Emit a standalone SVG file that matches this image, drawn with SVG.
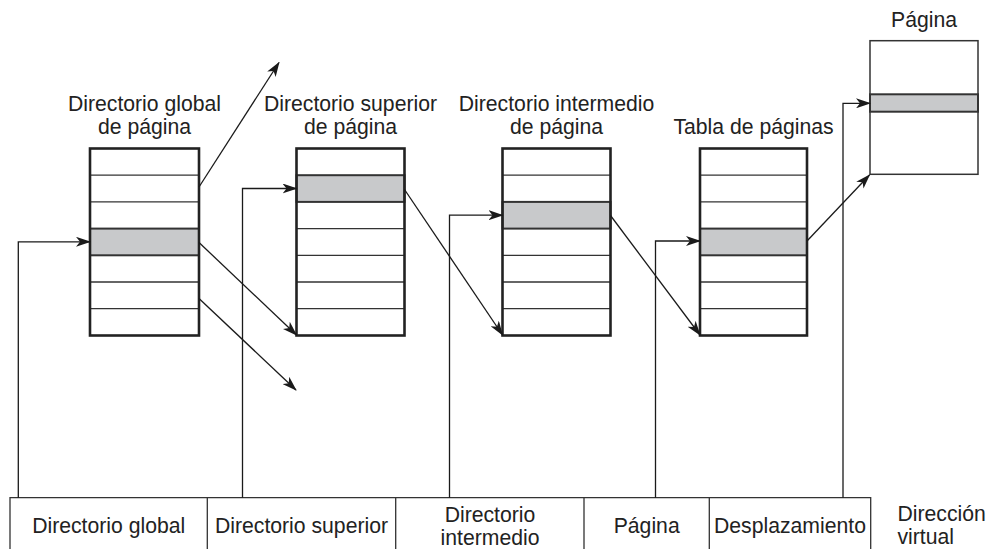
<svg xmlns="http://www.w3.org/2000/svg" width="987" height="549" viewBox="0 0 987 549">
<defs>
<marker id="ah" viewBox="0 0 15 10" refX="14" refY="5" markerWidth="15" markerHeight="10" markerUnits="userSpaceOnUse" orient="auto">
<path d="M0,0 L15,5 L0,10 L4,5 z" fill="#1a1a1a"/>
</marker>
</defs>
<style>
text{font-family:"Liberation Sans",Arial,sans-serif;font-size:21.2px;fill:#222}
.mid{text-anchor:middle}
.frame{fill:none;stroke:#222;stroke-width:2.6}
.row{stroke:#333;stroke-width:1.3}
.sh{fill:#c8c9cb;stroke:#333;stroke-width:2}
.conn{fill:none;stroke:#1a1a1a;stroke-width:1.3;marker-end:url(#ah)}
.thin{fill:none;stroke:#333;stroke-width:1.3}
</style>
<rect width="987" height="549" fill="#fff"/>

<g id="t1">
<rect x="90" y="148.5" width="109" height="187" fill="#fff"/>
<rect class="sh" x="90" y="228.6" width="109" height="26.7"/>
<line class="row" x1="90" y1="175.2" x2="199" y2="175.2"/>
<line class="row" x1="90" y1="201.9" x2="199" y2="201.9"/>
<line class="row" x1="90" y1="282" x2="199" y2="282"/>
<line class="row" x1="90" y1="308.7" x2="199" y2="308.7"/>
<rect class="frame" x="90" y="148.5" width="109" height="187"/>
<text class="mid" x="144.5" y="111">Directorio global</text>
<text class="mid" x="144.5" y="134">de página</text>
</g>

<g id="t2">
<rect x="296.5" y="148.5" width="108" height="187" fill="#fff"/>
<rect class="sh" x="296.5" y="175.2" width="108" height="26.7"/>
<line class="row" x1="296.5" y1="228.6" x2="404.5" y2="228.6"/>
<line class="row" x1="296.5" y1="255.3" x2="404.5" y2="255.3"/>
<line class="row" x1="296.5" y1="282" x2="404.5" y2="282"/>
<line class="row" x1="296.5" y1="308.7" x2="404.5" y2="308.7"/>
<rect class="frame" x="296.5" y="148.5" width="108" height="187"/>
<text class="mid" x="350.5" y="111">Directorio superior</text>
<text class="mid" x="350.5" y="134">de página</text>
</g>

<g id="t3">
<rect x="502.5" y="148.5" width="108" height="187" fill="#fff"/>
<rect class="sh" x="502.5" y="201.9" width="108" height="26.7"/>
<line class="row" x1="502.5" y1="175.2" x2="610.5" y2="175.2"/>
<line class="row" x1="502.5" y1="255.3" x2="610.5" y2="255.3"/>
<line class="row" x1="502.5" y1="282" x2="610.5" y2="282"/>
<line class="row" x1="502.5" y1="308.7" x2="610.5" y2="308.7"/>
<rect class="frame" x="502.5" y="148.5" width="108" height="187"/>
<text class="mid" x="556.5" y="111">Directorio intermedio</text>
<text class="mid" x="556.5" y="134">de página</text>
</g>

<g id="t4">
<rect x="700" y="148.5" width="107" height="187" fill="#fff"/>
<rect class="sh" x="700" y="228.6" width="107" height="26.7"/>
<line class="row" x1="700" y1="175.2" x2="807" y2="175.2"/>
<line class="row" x1="700" y1="201.9" x2="807" y2="201.9"/>
<line class="row" x1="700" y1="282" x2="807" y2="282"/>
<line class="row" x1="700" y1="308.7" x2="807" y2="308.7"/>
<rect class="frame" x="700" y="148.5" width="107" height="187"/>
<text class="mid" x="753.5" y="134">Tabla de páginas</text>
</g>

<g id="page">
<rect x="870" y="40.7" width="108" height="133.6" fill="#fff" stroke="#333" stroke-width="1.5"/>
<rect class="sh" x="870" y="94.3" width="108" height="17.4" stroke-width="1.6"/>
<text class="mid" x="924" y="27">Página</text>
</g>

<g id="address">
<path class="thin" d="M10,549 V497.7 H870.7 V549 M207.3,497.7 V549 M395.7,497.7 V549 M584,497.7 V549 M709.3,497.7 V549"/>
<text class="mid" x="108.7" y="533">Directorio global</text>
<text class="mid" x="301.5" y="533">Directorio superior</text>
<text class="mid" x="490" y="521.5">Directorio</text>
<text class="mid" x="490" y="544.5">intermedio</text>
<text class="mid" x="646.7" y="533">Página</text>
<text class="mid" x="790" y="533">Desplazamiento</text>
<text x="897.5" y="520.5">Dirección</text>
<text x="897.5" y="543.5">virtual</text>
</g>

<g id="connectors">
<path class="conn" d="M18.3,497.7 V241.8 H90"/>
<path class="conn" d="M242.5,497.7 V188.5 H296.5"/>
<path class="conn" d="M449.5,497.7 V215.2 H502.5"/>
<path class="conn" d="M655.5,497.7 V241 H700"/>
<path class="conn" d="M843,497.7 V103.3 H870"/>
<path class="conn" d="M199,187 L279,62.5"/>
<path class="conn" d="M199,242.5 L296.5,335"/>
<path class="conn" d="M199,298.5 L296,390"/>
<path class="conn" d="M404.5,189.5 L502.5,335"/>
<path class="conn" d="M610.5,215.5 L700,335"/>
<path class="conn" d="M807,241 L869.5,175"/>
</g>
</svg>
